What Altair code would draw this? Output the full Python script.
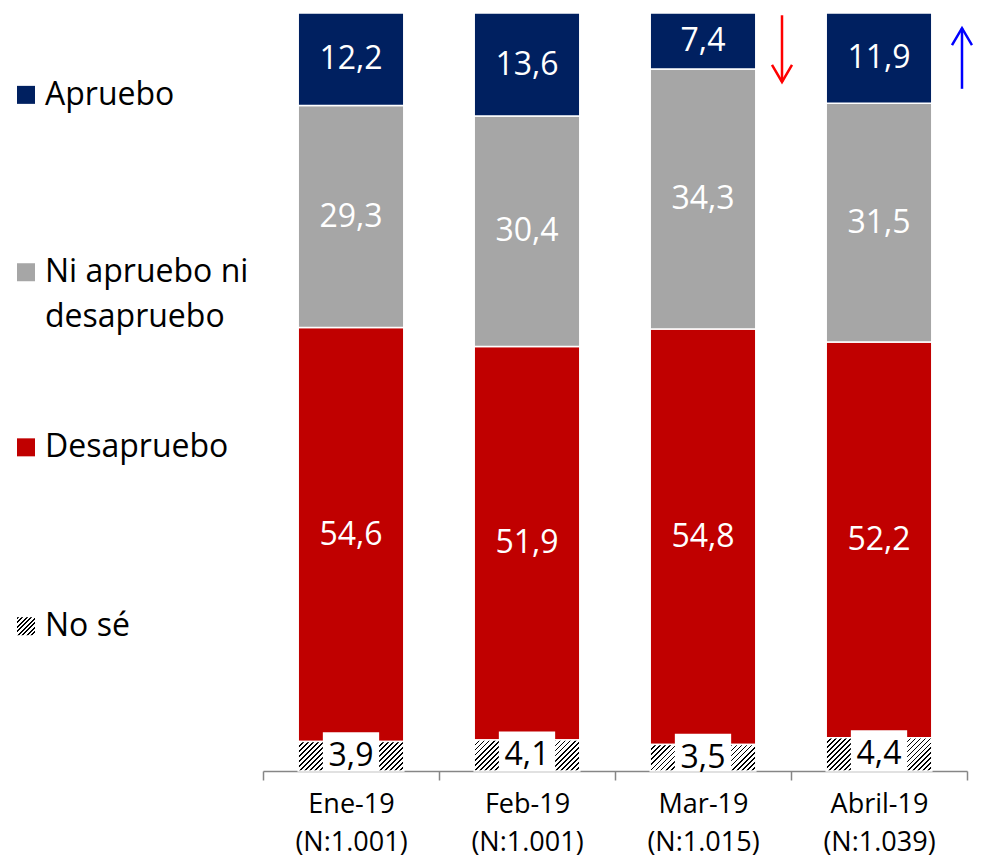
import altair as alt
import pandas as pd

FONT = "Open Sans"

months = ["Ene-19", "Feb-19", "Mar-19", "Abril-19"]
samples = ["(N:1.001)", "(N:1.001)", "(N:1.015)", "(N:1.039)"]
series = ["No sé", "Desapruebo", "Ni apruebo ni desapruebo", "Apruebo"]
nose = [3.9, 4.1, 3.5, 4.4]
desapruebo = [54.6, 51.9, 54.8, 52.2]
ni = [29.3, 30.4, 34.3, 31.5]
apruebo = [12.2, 13.6, 7.4, 11.9]
palette = ["#FFFFFF", "#C00000", "#A6A6A6", "#002060"]

arrow_month = ["Mar-19", "Abril-19"]
arrow_from = [99.7, 90.0]
arrow_to = [90.9, 98.0]
arrow_color = ["#FF0000", "#0000FF"]
arrow_dx = [79, 83]

legend_series = ["Apruebo", "Ni apruebo ni desapruebo", "Desapruebo", "No sé"]
legend_sq_y = [89.2, 65.8, 42.7, 19.1]
legend_text = ["Apruebo", "Ni apruebo ni", "desapruebo", "Desapruebo", "No sé"]
legend_text_y = [89.2, 65.8, 59.9, 42.7, 19.1]

W, H = 704, 758
cats = [f"{m}|{n}" for m, n in zip(months, samples)]

rows = []
for i, c in enumerate(cats):
    for k, (s, vals) in enumerate(zip(series, [nose, desapruebo, ni, apruebo])):
        rows.append({"cat": c, "series": s, "value": vals[i], "order": k})
df = pd.DataFrame(rows)

X = alt.X(
    "cat:N", sort=cats,
    scale=alt.Scale(paddingInner=0, paddingOuter=0),
    axis=alt.Axis(
        title=None, labelExpr="split(datum.label, '|')", labelAngle=0,
        labelFont=FONT, labelFontSize=27, labelColor="black",
        labelLineHeight=38, labelPadding=11,
        tickBand="extent", tickSize=9, tickColor="#868686", tickWidth=1.5,
        domainColor="#868686", domainWidth=1.5,
    ),
)
YS = alt.Scale(domain=[0, 100], nice=False, zero=True)

base = alt.Chart(df).transform_stack(
    stack="value", groupby=["cat"], as_=["y0", "y1"],
    sort=[alt.SortField("order", order="ascending")],
).transform_calculate(
    mid="(datum.y0 + datum.y1) / 2",
    label="replace(format(datum.value, '.1f'), '.', ',')",
)

color_scale = alt.Scale(domain=series, range=palette)

bars = base.transform_filter("datum.series != 'No sé'").mark_bar(
    stroke="white", strokeWidth=1.5, width=alt.RelativeBandSize(0.6)
).encode(
    x=X,
    y=alt.Y("y0:Q", scale=YS, axis=None),
    y2="y1:Q",
    color=alt.Color("series:N", scale=color_scale, legend=None),
)


def hatch(wpx, hpx, pitch=5.0, frac=0.33):
    r = hpx / wpx
    s = (1 + r) / (1 + r * r)
    n = max(2, int(round((wpx + hpx) / pitch)))
    stops = []
    for k in range(n):
        a = k / n
        b = (k + frac) / n
        stops += [
            alt.GradientStop(color="white", offset=a),
            alt.GradientStop(color="black", offset=a),
            alt.GradientStop(color="black", offset=b),
            alt.GradientStop(color="white", offset=b),
        ]
    stops.append(alt.GradientStop(color="white", offset=1))
    return alt.Gradient(gradient="linear", stops=stops, x1=0, y1=0, x2=s, y2=s * r)


bar_w = 0.6 * W / len(cats)
hatch_layers = []
for i, c in enumerate(cats):
    hpx = nose[i] * H / 100
    hatch_layers.append(
        base.transform_filter(f"datum.cat == '{c}' && datum.series == 'No sé'").mark_bar(
            fill=hatch(bar_w, hpx), stroke="white", strokeWidth=1.5,
            width=alt.RelativeBandSize(0.6),
        ).encode(x=X, y=alt.Y("y0:Q", scale=YS, axis=None), y2="y1:Q")
    )

boxes = base.transform_filter("datum.series == 'No sé'").mark_bar(
    color="white", width=alt.RelativeBandSize(0.32), y2Offset=-24
).encode(x=X, y=alt.Y("y0:Q", scale=YS, axis=None), y2="mid:Q")

labels = base.mark_text(font=FONT, fontSize=32, baseline="middle").encode(
    x=X,
    y=alt.Y("mid:Q", scale=YS, axis=None),
    text="label:N",
    color=alt.condition("datum.series == 'No sé'", alt.value("black"), alt.value("white")),
)

HEAD_R = 10  # half-width of arrow head in px (size = (2*HEAD_R)^2)
arrow_layers = []
for m, f, t, col, dx in zip(arrow_month, arrow_from, arrow_to, arrow_color, arrow_dx):
    c = cats[months.index(m)]
    adf = pd.DataFrame({"cat": [c], "y_from": [f], "y_to": [t]})
    if t < f:
        shape, yoff = "M-1,-0.85L0,0.85L1,-0.85", -0.85 * HEAD_R
    else:
        shape, yoff = "M-1,0.85L0,-0.85L1,0.85", 0.85 * HEAD_R
    arrow_layers.append(
        alt.Chart(adf).mark_rule(color=col, strokeWidth=2.5, xOffset=dx).encode(
            x=X, y=alt.Y("y_from:Q", scale=YS, axis=None), y2="y_to:Q"
        )
    )
    arrow_layers.append(
        alt.Chart(adf).mark_point(
            shape=shape, size=(2 * HEAD_R) ** 2, filled=False, color=col,
            strokeWidth=2.5, opacity=1, xOffset=dx, yOffset=yoff,
        ).encode(x=X, y=alt.Y("y_to:Q", scale=YS, axis=None))
    )

leg_df = pd.DataFrame({"series": legend_series, "ly": legend_sq_y})
leg_sq = alt.Chart(leg_df).transform_filter("datum.series != 'No sé'").mark_square(
    size=324, opacity=1, filled=True
).encode(
    x=alt.value(-237), y=alt.Y("ly:Q", scale=YS, axis=None),
    color=alt.Color("series:N", scale=color_scale, legend=None),
)
leg_hatch = alt.Chart(leg_df).transform_filter("datum.series == 'No sé'").mark_square(
    size=324, opacity=1, filled=True, fill=hatch(18, 18, pitch=4.5, frac=0.4)
).encode(x=alt.value(-237), y=alt.Y("ly:Q", scale=YS, axis=None))

leg_txt_df = pd.DataFrame({"t": legend_text, "ly": legend_text_y})
leg_txt = alt.Chart(leg_txt_df).mark_text(
    font=FONT, fontSize=32, align="left", baseline="middle", color="black"
).encode(x=alt.value(-218), y=alt.Y("ly:Q", scale=YS, axis=None), text="t:N")

chart = alt.layer(
    bars, *hatch_layers, boxes, labels, *arrow_layers, leg_sq, leg_hatch, leg_txt
).properties(
    width=W, height=H,
    autosize=alt.AutoSizeParams(type="none"),
    padding={"top": 5, "left": 255, "right": 6, "bottom": 88},
    background="white",
).configure_view(stroke=None)

chart.save("out.html", embed_options={"renderer": "svg", "actions": False})
